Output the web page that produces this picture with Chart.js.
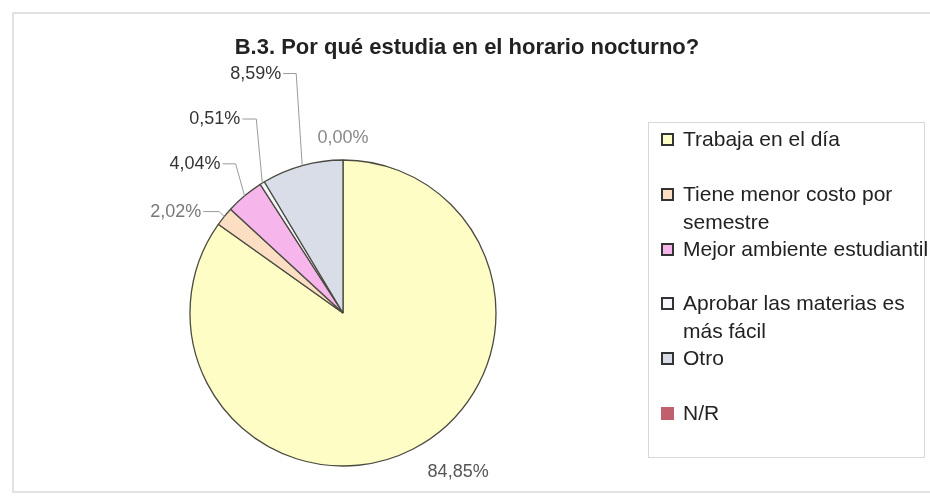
<!DOCTYPE html>
<html lang="es">
<head>
  <meta charset="UTF-8">
  <title>B.3. Por qué estudia en el horario nocturno?</title>
  <script src="https://cdn.jsdelivr.net/npm/chart.js"></script>
  <style>
    body {
      margin: 0;
      background: #fff;
      font-family: "Liberation Sans", Arial, sans-serif;
    }
    #marco {
      position: absolute;
      left: 12px;
      top: 12px;
      width: 930px;
      height: 481px;
      border-left: 2px solid #e2e2e2;
      border-top: 2px solid #e2e2e2;
      border-bottom: 2px solid #e2e2e2;
      box-sizing: border-box;
    }
    #titulo {
      position: absolute;
      left: 0;
      width: 930px;
      top: 34px;
      text-align: center;
      font-weight: bold;
      font-size: 22px;
      color: #222;
      padding-left: 2px;
    }
    #leyenda {
      position: absolute;
      left: 648px;
      top: 122px;
      width: 277px;
      height: 336px;
      border: 1px solid #d8d8d8;
      box-sizing: border-box;
    }
    .item {
      position: absolute;
      left: 12px;
      font-size: 21px;
      line-height: 28px;
      color: #222;
      white-space: pre;
      padding-left: 22px;
    }
    .item span {
      position: absolute;
      left: 0;
      top: 8px;
      width: 9px;
      height: 9px;
      border: 2px solid #333;
    }
    canvas { position: absolute; left: 0; top: 0; }
  </style>
</head>
<body>
  <div id="marco"></div>
  <canvas id="grafico" width="930" height="497"></canvas>
  <div id="titulo">B.3. Por qué estudia en el horario nocturno?</div>
  <div id="leyenda"></div>
  <script>
    const categorias = [
      "Trabaja en el día",
      "Tiene menor costo por\nsemestre",
      "Mejor ambiente estudiantil",
      "Aprobar las materias es\nmás fácil",
      "Otro",
      "N/R"
    ];
    const porcentajes = [84.85, 2.02, 4.04, 0.51, 8.59, 0.00];
    const etiquetas = ["84,85%", "2,02%", "4,04%", "0,51%", "8,59%", "0,00%"];
    const colores = ["#fffdc6", "#fcdfc2", "#f6b6ec", "#f4f6fa", "#d9dde8", "#c0606e"];

    // leyenda a la derecha
    const leyenda = document.getElementById("leyenda");
    categorias.forEach((cat, i) => {
      const div = document.createElement("div");
      div.className = "item";
      div.style.top = (2 + i * 54.8) + "px";
      div.textContent = cat;
      const marca = document.createElement("span");
      marca.style.background = colores[i];
      if (i === 5) marca.style.borderColor = colores[i];
      div.prepend(marca);
      leyenda.appendChild(div);
    });

    // etiquetas con líneas guía
    const posEtiquetas = {
      id: "posEtiquetas",
      afterDatasetsDraw(chart, args, opts) {
        const ctx = chart.ctx;
        const arcs = chart.getDatasetMeta(0).data;
        ctx.save();
        ctx.font = "18px 'Liberation Sans', Arial, sans-serif";
        ctx.textBaseline = "middle";
        arcs.forEach((arc, i) => {
          const cfg = opts.layout[i];
          const mid = (arc.startAngle + arc.endAngle) / 2;
          const ax = arc.x + Math.cos(mid) * arc.outerRadius;
          const ay = arc.y + Math.sin(mid) * arc.outerRadius;
          const tx = ax + cfg.dx, ty = ay + cfg.dy;
          if (cfg.guia) {
            ctx.strokeStyle = "#9a9a9a";
            ctx.lineWidth = 1;
            ctx.beginPath();
            ctx.moveTo(ax, ay);
            ctx.lineTo(ax + cfg.codo, ty);
            ctx.lineTo(tx + 2, ty);
            ctx.stroke();
            ctx.textAlign = "right";
          } else {
            ctx.textAlign = "center";
          }
          ctx.fillStyle = cfg.color;
          ctx.fillText(etiquetas[i], tx, ty);
        });
        ctx.restore();
      }
    };

    new Chart(document.getElementById("grafico"), {
      type: "pie",
      data: {
        labels: categorias,
        datasets: [{
          data: porcentajes,
          backgroundColor: colores,
          borderColor: "#4a4a40",
          borderWidth: 1.3
        }]
      },
      options: {
        responsive: false,
        animation: false,
        radius: 153,
        layout: { padding: { left: 190, right: 434, top: 160, bottom: 31 } },
        plugins: {
          legend: { display: false },
          tooltip: { enabled: false },
          posEtiquetas: {
            layout: [
              { dx: 45, dy: 23, guia: false, color: "#555" },
              { dx: -23, dy: -5, codo: -5, guia: true, color: "#777" },
              { dx: -24, dy: -32, codo: -9, guia: true, color: "#333" },
              { dx: -22, dy: -64, codo: -6, guia: true, color: "#333" },
              { dx: -21, dy: -92, codo: -6, guia: true, color: "#333" },
              { dx: 0, dy: -22, guia: false, color: "#888" }
            ]
          }
        }
      },
      plugins: [posEtiquetas]
    });
  </script>
</body>
</html>
